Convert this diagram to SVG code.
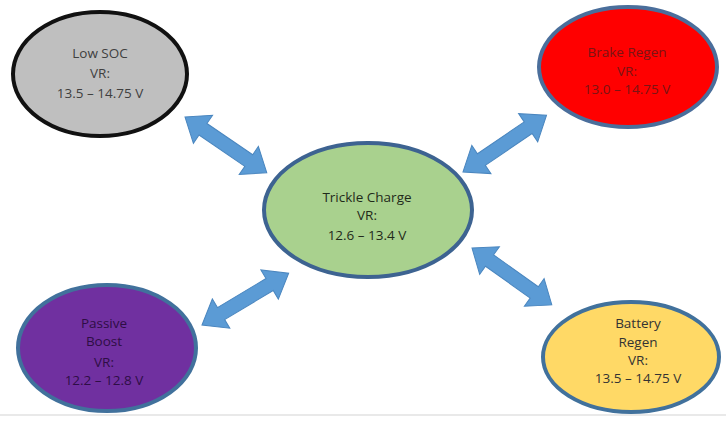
<svg xmlns="http://www.w3.org/2000/svg" width="726" height="425" viewBox="0 0 726 425">
<style>
.t{font-family:"Open Sans","Liberation Sans",sans-serif;font-size:13.5px;text-anchor:middle}
.n{stroke-width:4}
.arr{fill:#5B9BD5;stroke:#4A86BF;stroke-width:1}
</style>
<defs>
<polygon id="dbl" points="0,0 22,-17 22,-7 78,-7 78,-17 100,0 78,17 78,7 22,7 22,17"/>
</defs>
<rect x="0" y="0" width="726" height="425" fill="#ffffff"/>
<line x1="0" y1="415" x2="726" y2="415" stroke="#e2e2e2" stroke-width="1.5"/>
<g id="connectors">
<use href="#dbl" class="arr" transform="translate(185,117) rotate(34.3) scale(0.99,1)"/>
<use href="#dbl" class="arr" transform="translate(463,172) rotate(-34.2) scale(1.01,1)"/>
<use href="#dbl" class="arr" transform="translate(202,325) rotate(-30.9) scale(1.01,1)"/>
<use href="#dbl" class="arr" transform="translate(472,248) rotate(35.5) scale(0.98,1)"/>
</g>
<g id="low-soc">
<ellipse class="n" cx="100" cy="74" rx="87" ry="62" fill="#BFBFBF" stroke="#111111"/>
<text class="t" x="100" y="58" fill="#404040">Low SOC</text>
<text class="t" x="100" y="78" fill="#404040">VR:</text>
<text class="t" x="100" y="98" fill="#404040">13.5 – 14.75 V</text>
</g>
<g id="brake-regen">
<ellipse class="n" cx="628" cy="67" rx="89" ry="60" fill="#FF0000" stroke="#4A6E9B"/>
<text class="t" x="627" y="57" fill="#7A1414">Brake Regen</text>
<text class="t" x="627" y="76" fill="#7A1414">VR:</text>
<text class="t" x="627" y="94" fill="#7A1414">13.0 – 14.75 V</text>
</g>
<g id="trickle-charge">
<ellipse class="n" cx="368" cy="210" rx="104" ry="67" fill="#A9D18E" stroke="#3D6391"/>
<text class="t" x="367" y="202" fill="#1F2A1A">Trickle Charge</text>
<text class="t" x="367" y="220" fill="#1F2A1A">VR:</text>
<text class="t" x="367" y="240" fill="#1F2A1A">12.6 – 13.4 V</text>
</g>
<g id="passive-boost">
<ellipse class="n" cx="107" cy="348" rx="89" ry="63" fill="#7030A0" stroke="#41719C"/>
<text class="t" x="104" y="328" fill="#2E0E45">Passive</text>
<text class="t" x="104" y="346" fill="#2E0E45">Boost</text>
<text class="t" x="104" y="367" fill="#2E0E45">VR:</text>
<text class="t" x="104" y="385" fill="#2E0E45">12.2 – 12.8 V</text>
</g>
<g id="battery-regen">
<ellipse class="n" cx="631" cy="357" rx="88" ry="55" fill="#FFD966" stroke="#41719C"/>
<text class="t" x="638" y="328" fill="#333333">Battery</text>
<text class="t" x="638" y="347" fill="#333333">Regen</text>
<text class="t" x="638" y="365" fill="#333333">VR:</text>
<text class="t" x="638" y="383" fill="#333333">13.5 – 14.75 V</text>
</g>
</svg>
